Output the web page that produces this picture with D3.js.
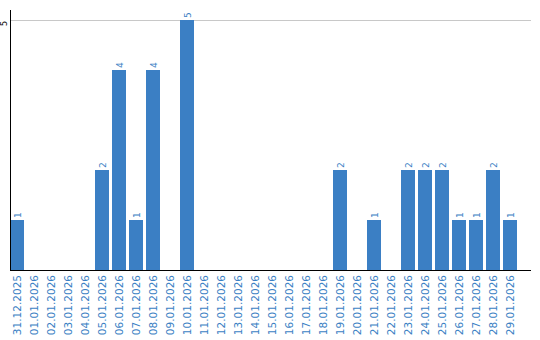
<!DOCTYPE html>
<html>
<head>
<meta charset="utf-8">
<script src="https://cdn.jsdelivr.net/npm/d3@7/dist/d3.min.js"></script>
<style>
  body { margin: 0; background: #fff; }
  text { font-family: "DejaVu Sans", sans-serif; }
</style>
</head>
<body>
<div id="chart"></div>
<script>
// Data

var dates = ['31.12.2025', '01.01.2026', '02.01.2026', '03.01.2026', '04.01.2026', '05.01.2026',
  '06.01.2026', '07.01.2026', '08.01.2026', '09.01.2026', '10.01.2026', '11.01.2026',
  '12.01.2026', '13.01.2026', '14.01.2026', '15.01.2026', '16.01.2026', '17.01.2026',
  '18.01.2026', '19.01.2026', '20.01.2026', '21.01.2026', '22.01.2026', '23.01.2026',
  '24.01.2026', '25.01.2026', '26.01.2026', '27.01.2026', '28.01.2026', '29.01.2026'];
var counts = [1, 0, 0, 0, 0, 2, 4, 1, 4, 0, 5, 0, 0, 0, 0, 0, 0, 0, 0, 2, 0, 1, 0, 2, 2, 2, 1, 1, 2, 1];
var yTicks = [5];

// Dimensions

var width = 540, height = 340;
var plotLeft = 10, plotRight = 531, plotTop = 20, plotBottom = 270;
var blue = '#3b7fc4';

var svg = d3.select('#chart').append('svg')
  .attr('width', width)
  .attr('height', height);

var x = d3.scaleBand()
  .domain(dates)
  .range([plotLeft, 517])
  .paddingInner(3 / 17)
  .paddingOuter(0);

var y = d3.scaleLinear()
  .domain([0, 5])
  .range([plotBottom, plotTop]);

// Grid line

svg.selectAll('.grid')
  .data(yTicks)
  .enter().append('line')
  .attr('x1', plotLeft).attr('x2', plotRight)
  .attr('y1', function(d) { return y(d) + 0.5; })
  .attr('y2', function(d) { return y(d) + 0.5; })
  .attr('stroke', '#c8c8c8')
  .attr('stroke-width', 1);

svg.selectAll('.ytick')
  .data(yTicks)
  .enter().append('text')
  .attr('transform', function(d) { return 'translate(7,' + (y(d) + 6) + ') rotate(-90)'; })
  .attr('text-anchor', 'start')
  .attr('font-size', '8px')
  .attr('fill', '#000')
  .text(function(d) { return d; });

// Bars

var data = dates.map(function(d, i) { return { date: d, value: counts[i] }; });

svg.selectAll('.bar')
  .data(data.filter(function(d) { return d.value > 0; }))
  .enter().append('rect')
  .attr('x', function(d) { return x(d.date); })
  .attr('y', function(d) { return y(d.value); })
  .attr('width', x.bandwidth())
  .attr('height', function(d) { return y(0) - y(d.value); })
  .attr('fill', blue);

svg.selectAll('.vlabel')
  .data(data.filter(function(d) { return d.value > 0; }))
  .enter().append('text')
  .attr('transform', function(d) {
    return 'translate(' + (x(d.date) + x.bandwidth() / 2 + 3.5) + ',' + (y(d.value) - 2) + ') rotate(-90)';
  })
  .attr('text-anchor', 'start')
  .attr('font-size', '9px')
  .attr('fill', blue)
  .text(function(d) { return d.value; });

// Axis lines

svg.append('line')
  .attr('x1', plotLeft + 0.5).attr('x2', plotLeft + 0.5)
  .attr('y1', 10).attr('y2', plotBottom)
  .attr('stroke', '#000');

svg.append('line')
  .attr('x1', plotLeft).attr('x2', plotRight)
  .attr('y1', plotBottom + 0.5).attr('y2', plotBottom + 0.5)
  .attr('stroke', '#000');

// X labels

svg.selectAll('.xlabel')
  .data(dates)
  .enter().append('text')
  .attr('transform', function(d) {
    return 'translate(' + (x(d) + x.bandwidth() / 2 + 4) + ',' + (plotBottom + 5) + ') rotate(-90)';
  })
  .attr('text-anchor', 'end')
  .attr('font-size', '10.5px')
  .attr('fill', blue)
  .text(function(d) { return d; });
</script>
</body>
</html>
